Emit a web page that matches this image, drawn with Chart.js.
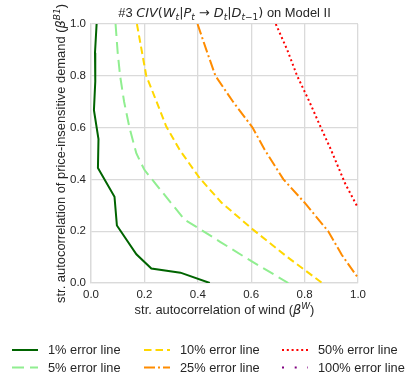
<!DOCTYPE html>
<html>
<head>
<meta charset="utf-8">
<script src="https://cdn.jsdelivr.net/npm/chart.js@4.4.1/dist/chart.umd.min.js"></script>
<style>
  html, body { margin: 0; padding: 0; background: #fff; }
  #wrap { width: 415px; height: 387px; position: relative; }
</style>
</head>
<body>
<div id="wrap"><canvas id="myChart" width="415" height="387"></canvas></div>
<script>
// error lines (x = beta^W, y = beta^B1)
const err1X = [0.021, 0.015, 0.016, 0.011, 0.028, 0.026, 0.088, 0.097, 0.170, 0.226, 0.335, 0.445];
const err1Y = [1.000, 0.889, 0.778, 0.667, 0.556, 0.444, 0.333, 0.222, 0.111, 0.056, 0.040, 0.000];

const err5X = [0.092, 0.100, 0.109, 0.124, 0.144, 0.170, 0.200, 0.245, 0.295, 0.351, 0.407, 0.482, 0.582, 0.739];
const err5Y = [1.000, 0.889, 0.800, 0.700, 0.600, 0.500, 0.437, 0.379, 0.315, 0.244, 0.209, 0.160, 0.096, 0.000];

const err10X = [0.172, 0.194, 0.207, 0.238, 0.282, 0.332, 0.407, 0.489, 0.607, 0.732, 0.866];
const err10Y = [1.000, 0.874, 0.800, 0.720, 0.604, 0.514, 0.405, 0.310, 0.206, 0.103, 0.000];

const err25X = [0.399, 0.432, 0.466, 0.532, 0.605, 0.651, 0.720, 0.801, 0.889, 0.939, 1.000];
const err25Y = [1.000, 0.900, 0.800, 0.700, 0.600, 0.514, 0.401, 0.309, 0.199, 0.109, 0.020];

const err50X = [0.692, 0.735, 0.772, 0.818, 0.861, 0.899, 0.951, 1.000];
const err50Y = [1.000, 0.900, 0.800, 0.700, 0.600, 0.514, 0.386, 0.290];

// the 100% line never enters the plotted range
const err100X = [];
const err100Y = [];

const seriesLabels = ['1% error line', '5% error line', '10% error line', '25% error line', '50% error line', '100% error line'];
const tickValues = [0.0, 0.2, 0.4, 0.6, 0.8, 1.0];

const FONT = "'Liberation Sans', Arial, sans-serif";
const MATH = "'DejaVu Sans', sans-serif";
const TEXT = '#262626';
const GRID = '#dadada';

function pts(xs, ys) {
  return xs.map((x, i) => ({ x: x, y: ys[i] }));
}

function line(label, xs, ys, color, dash) {
  return {
    label: label,
    data: pts(xs, ys),
    borderColor: color,
    backgroundColor: color,
    borderWidth: 2,
    borderDash: dash,
    borderCapStyle: 'butt',
    showLine: true,
    pointRadius: 0,
    pointHoverRadius: 0,
    tension: 0,
    fill: false
  };
}

// draw mixed text: [text, style, script]
function measureSeg(ctx, seg, size) {
  const s = (seg[2] ? 0.7 : 1) * size;
  const fam = seg[1] === 'n' ? FONT : MATH;
  const it = seg[1] === 'mi' ? 'italic ' : '';
  ctx.font = it + s + 'px ' + fam;
  return ctx.measureText(seg[0]).width;
}

function drawRich(ctx, segs, cx, baseY, size) {
  let total = 0;
  segs.forEach(seg => { total += measureSeg(ctx, seg, size); });
  let x = cx - total / 2;
  ctx.textAlign = 'left';
  ctx.textBaseline = 'alphabetic';
  segs.forEach(seg => {
    const w = measureSeg(ctx, seg, size);
    let dy = 0;
    if (seg[2] === 'sub') dy = 0.22 * size;
    if (seg[2] === 'sup') dy = -0.42 * size;
    ctx.fillText(seg[0], x, baseY + dy);
    x += w;
  });
}

const titleSegs = [
  ['#3 ', 'n'], ['CIV', 'mi'], ['(', 'm'], ['W', 'mi'], ['t', 'mi', 'sub'], ['|', 'm'],
  ['P', 'mi'], ['t', 'mi', 'sub'], [' \u2192 ', 'm'], ['D', 'mi'], ['t', 'mi', 'sub'], ['|', 'm'],
  ['D', 'mi'], ['t', 'mi', 'sub'], ['\u22121', 'm', 'sub'], [')', 'm'], [' on Model II', 'n']
];
const xLabelSegs = [
  ['str. autocorrelation of wind (', 'n'], ['\u03b2', 'mi'], ['W', 'mi', 'sup'], [')', 'n']
];
const yLabelSegs = [
  ['str. autocorrelation of price-insensitive demand (', 'n'], ['\u03b2', 'mi'], ['B1', 'mi', 'sup'], [')', 'n']
];

const decor = {
  id: 'decor',
  afterDraw(chart) {
    const ctx = chart.ctx;
    const area = chart.chartArea;
    const cx = (area.left + area.right) / 2;
    ctx.save();
    ctx.fillStyle = TEXT;
    drawRich(ctx, titleSegs, cx, 17, 12.9);
    drawRich(ctx, xLabelSegs, cx, 314, 12.9);
    ctx.save();
    ctx.translate(65, (area.top + area.bottom) / 2);
    ctx.rotate(-Math.PI / 2);
    drawRich(ctx, yLabelSegs, 0, 0, 12.9);
    ctx.restore();

    // legend, three columns, column-major like the original
    const cols = [[12, 48], [144, 180], [282, 318]];
    const rows = [350, 367.5];
    chart.data.datasets.forEach((ds, i) => {
      const c = cols[Math.floor(i / 2)];
      const y = rows[i % 2];
      ctx.beginPath();
      ctx.strokeStyle = ds.borderColor;
      ctx.lineWidth = ds.borderWidth;
      ctx.lineCap = 'butt';
      ctx.setLineDash(ds.borderDash || []);
      ctx.moveTo(c[0], y);
      ctx.lineTo(c[0] + 26, y);
      ctx.stroke();
      ctx.setLineDash([]);
      ctx.font = '12.8px ' + FONT;
      ctx.fillStyle = TEXT;
      ctx.textAlign = 'left';
      ctx.textBaseline = 'middle';
      ctx.fillText(ds.label, c[1], y + 0.5);
    });
    ctx.restore();
  }
};

const axis = {
  type: 'linear',
  min: 0,
  max: 1,
  afterBuildTicks: s => { s.ticks = tickValues.map(v => ({ value: v })); },
  grid: { color: GRID, lineWidth: 1.3, drawTicks: false },
  border: { color: GRID, width: 1.3 },
  ticks: {
    color: TEXT,
    font: { size: 11.5, family: FONT },
    padding: 5,
    callback: v => v.toFixed(1)
  }
};

new Chart(document.getElementById('myChart'), {
  type: 'scatter',
  data: {
    datasets: [
      line(seriesLabels[0], err1X, err1Y, '#006400', []),
      line(seriesLabels[1], err5X, err5Y, '#90ee90', [12, 6]),
      line(seriesLabels[2], err10X, err10Y, '#ffd700', [7.5, 4]),
      line(seriesLabels[3], err25X, err25Y, '#ff8c00', [11, 3, 2, 3]),
      line(seriesLabels[4], err50X, err50Y, '#ff0000', [2, 2.8]),
      line(seriesLabels[5], err100X, err100Y, '#800080', [2, 10.7])
    ]
  },
  options: {
    responsive: false,
    animation: false,
    events: [],
    layout: { padding: { left: 0, right: 57, top: 24, bottom: 0 } },
    plugins: {
      legend: { display: false },
      title: { display: false },
      tooltip: { enabled: false }
    },
    scales: {
      x: Object.assign({}, axis, {
        position: 'bottom',
        afterFit: s => { s.height = 104; }
      }),
      y: Object.assign({}, axis, {
        position: 'left',
        afterFit: s => { s.width = 91; }
      })
    }
  },
  plugins: [decor]
});
</script>
</body>
</html>
